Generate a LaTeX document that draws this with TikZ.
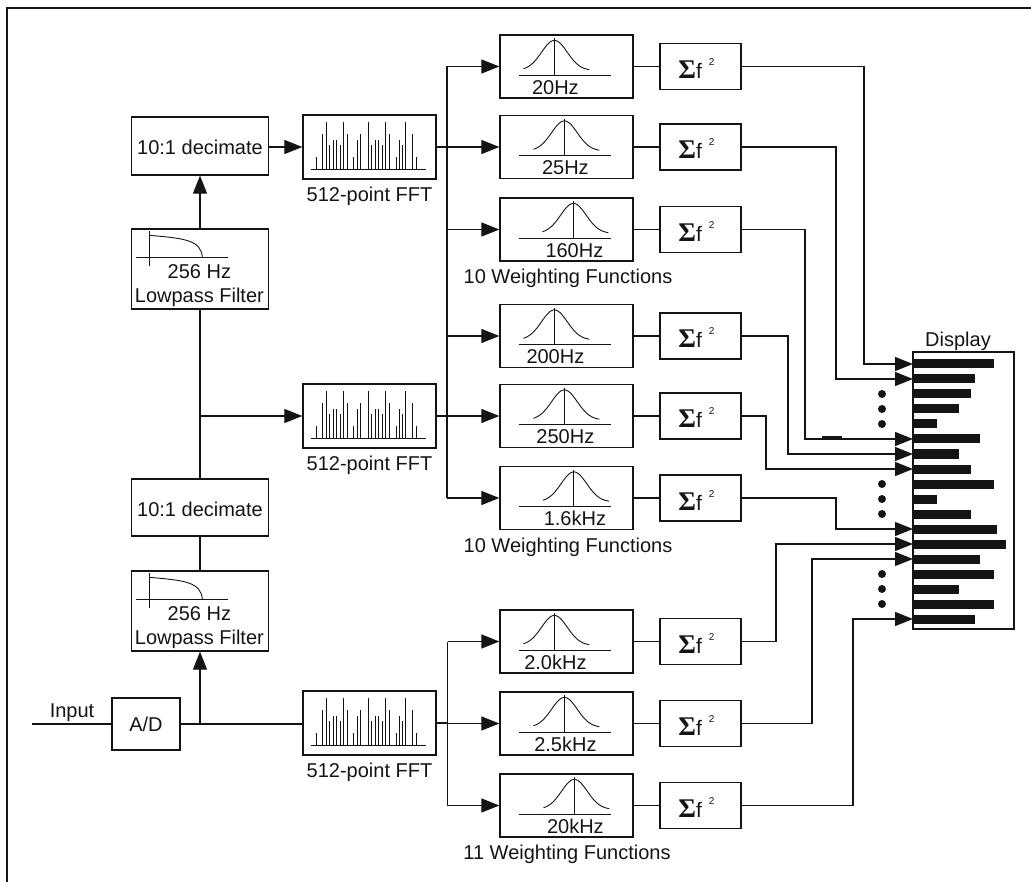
\documentclass[tikz,border=0pt]{standalone}
\usepackage{fontspec}
\setmainfont{Liberation Sans}
\newfontfamily\serifsig{Liberation Serif}
\usetikzlibrary{arrows.meta}
\tikzset{
  box/.style={draw, rectangle, inner sep=0pt, line width=1.2pt},
  txt/.style={inner sep=0pt, font=\fontsize{20}{24}\selectfont},
  glyph/.style={line width=0.9pt},
  arr/.style={-{Triangle[length=18pt,width=14pt]}},
}
\newcommand{\sigf}{{\serifsig\bfseries\fontsize{27}{27}\selectfont Σ}{\fontsize{21}{24}\selectfont f}\hspace{7pt}\raisebox{13pt}{\fontsize{10}{10}\selectfont 2}}
\newcommand{\fftbox}[2]{%
  \node[box, minimum width=133pt, minimum height=64pt] (#1) at (369.5,#2) {};
  \begin{scope}[shift={(#1.north west)}]
    \draw[glyph] (9,55) -- (124,55);
    \foreach \dx/\h in {14.3/12, 20/35, 23.7/47, 27/24, 30.7/29, 34/29, 37.7/24, 41.3/47, 45/35, 51.3/12, 55/29, 58.3/35, 65.7/47, 69/24, 72.7/29, 76/29, 79.7/24, 83.3/47, 87/35, 93.7/12, 97/29, 100/24, 103.3/47, 110/35, 113.7/12}
      \draw[glyph] (\dx,55) -- (\dx,{55-\h});
  \end{scope}
  \node[txt, anchor=base] (#1-lab) at ([yshift=-22pt]#1.south) {512-point FFT};}
\newcommand{\lpbox}[2]{%
  \node[box, minimum width=137pt, minimum height=80pt] (#1) at (200,#2) {};
  \begin{scope}[shift={(#1.north west)}]
    \draw[glyph] (19,3) -- (19,38);
    \draw[glyph] (5,29) -- (97,29);
    \draw[glyph] (19,7) .. controls (55,10) and (70,12) .. (71.5,29);
    \node[txt, anchor=base] (#1-a) at (68.5,50) {256 Hz};
    \node[txt, anchor=base] (#1-b) at (68.5,74) {Lowpass Filter};
  \end{scope}}
\newcommand{\wbox}[4]{%
  \node[box, minimum width=133pt, minimum height=63pt] (#1) at (566.5,#2) {};
  \begin{scope}[shift={(#1.north west)}]
    \pgfmathsetmacro\gal{#3-31}
    \pgfmathsetmacro\gar{#3+35}
    \draw[glyph] (20,41) -- (112,41);
    \draw[glyph] (#3,4) -- (#3,41);
    \draw[glyph] plot[domain=\gal:\gar, samples=60, smooth] (\x, {36-30*exp(-((\x-#3)^2)/330)});
    \node[txt, anchor=base] (#1-lab) at (#3+1,60) {#4};
  \end{scope}}
\newcommand{\sigbox}[2]{%
  \node[box, minimum width=81pt, minimum height=46pt] (#1) at (700.5,#2) {};
  \node[txt, anchor=base] (#1-t) at ([xshift=-4pt,yshift=-12pt]#1.center) {\sigf};}
\begin{document}
\begin{tikzpicture}[x=1pt,y=-1pt,color=black!92,line width=1.1pt]
\useasboundingbox (0,0) rectangle (1031,882);
% frame
\draw[line width=1.8pt] (7,882) -- (7,8) -- (1031,8);

% left column
\node[box, minimum width=137pt, minimum height=58pt] (dec1) at (200,146) {};
\node[txt, anchor=base] (dec1-t) at ([yshift=-9pt]dec1.center) {10:1 decimate};
\lpbox{lp1}{269}
\node[box, minimum width=137pt, minimum height=57pt] (dec2) at (200,507.5) {};
\node[txt, anchor=base] (dec2-t) at ([yshift=-9pt]dec2.center) {10:1 decimate};
\lpbox{lp2}{611}
\node[box, minimum width=68pt, minimum height=52pt] (ad) at (146,724) {};
\node[txt, anchor=base] (ad-t) at ([yshift=-7pt]ad.center) {A/D};
\coordinate (inp) at (32,724);
\node[txt, anchor=base] (inp-t) at (72,717) {Input};

% FFT boxes
\fftbox{fft1}{147}
\fftbox{fft2}{416}
\fftbox{fft3}{723}

% weighting boxes
\wbox{w1}{66.5}{55}{20Hz}
\wbox{w2}{147}{65}{25Hz}
\wbox{w3}{229.5}{74}{160Hz}
\wbox{w4}{336}{55}{200Hz}
\wbox{w5}{416}{65}{250Hz}
\wbox{w6}{498}{74.5}{1.6kHz}
\wbox{w7}{641.5}{55}{2.0kHz}
\wbox{w8}{723.5}{65}{2.5kHz}
\wbox{w9}{805.5}{75}{20kHz}
\node[txt, anchor=base] (wf1) at ([xshift=1.5pt,yshift=-22pt]w3.south) {10 Weighting Functions};
\node[txt, anchor=base] (wf2) at ([xshift=1.5pt,yshift=-22pt]w6.south) {10 Weighting Functions};
\node[txt, anchor=base] (wf3) at ([xshift=0.5pt,yshift=-22pt]w9.south) {11 Weighting Functions};

% sigma boxes
\sigbox{s1}{66.5}
\sigbox{s2}{147}
\sigbox{s3}{229.5}
\sigbox{s4}{336}
\sigbox{s5}{416}
\sigbox{s6}{498}
\sigbox{s7}{641.5}
\sigbox{s8}{723.5}
\sigbox{s9}{805.5}

% display
\node[box, minimum width=101pt, minimum height=277pt] (disp) at (963.5,490.5) {};
\node[txt, anchor=base] (disp-t) at (958,347) {Display};
\foreach \k/\r in {1/994, 2/975, 3/971, 4/959, 5/937, 6/980, 7/959, 8/971, 9/994, 10/937, 11/971, 12/997, 13/1006, 14/980, 15/994, 16/959, 17/994, 18/975}
  \fill (914, {364+15*(\k-1)-4.5}) rectangle (\r, {364+15*(\k-1)+4.5});
\foreach \yy in {394,409,424,484,499,514,574,589,604}
  \fill (882,\yy) circle[radius=4pt];

% left column wiring
\draw (inp) -- (ad.west);
\draw (ad.east) -- (ad.east -| fft3.west);
\draw[arr] (ad.east -| lp2.south) -- (lp2.south);
\draw (lp2.north) -- (dec2.south);
\draw (dec2.north) -- (lp1.south);
\draw[arr] (lp1.south |- fft2.west) -- (fft2.west);
\draw[arr] (lp1.north) -- (dec1.south);
\draw[arr] (dec1.east |- fft1.west) -- (fft1.west);

% buses
\coordinate (busA) at (447,0);
\coordinate (busB) at (447.5,0);
\draw (fft1.east) -- (busA |- fft1.east);
\draw (fft2.east) -- (busA |- fft2.east);
\draw (busA |- w1.west) -- (busA |- w6.west);
\foreach \w in {w1,w2,w3,w4,w5,w6}
  \draw[arr] (busA |- \w.west) -- (\w.west);
\draw (fft3.east) -- (busB |- fft3.east);
\draw (busB |- w7.west) -- (busB |- w9.west);
\foreach \w in {w7,w8,w9}
  \draw[arr] (busB |- \w.west) -- (\w.west);
\foreach \i in {1,...,9}
  \draw (w\i.east) -- (s\i.west);

% routes to display
\coordinate (r1) at (864,0);
\coordinate (r2) at (836,0);
\coordinate (r3) at (805,0);
\coordinate (r4) at (788,0);
\coordinate (r5) at (766,0);
\coordinate (r6) at (836,0);
\coordinate (r7) at (776,0);
\coordinate (r8) at (812,0);
\coordinate (r9) at (853,0);
\coordinate (d1) at (913,364);
\coordinate (d2) at (913,379);
\coordinate (d3) at (913,439);
\coordinate (d4) at (913,454);
\coordinate (d5) at (913,469);
\coordinate (d6) at (913,529);
\coordinate (d7) at (913,544);
\coordinate (d8) at (913,559);
\coordinate (d9) at (913,619);
\foreach \i in {1,...,9}
  \draw[arr] (s\i.east) -- (r\i |- s\i.east) -- (r\i |- d\i) -- (d\i);
\draw[line width=2pt] (822,437.5) -- (842,437.5);
\draw[line width=2pt] (853,635) -- (853,698);
\end{tikzpicture}
\end{document}
